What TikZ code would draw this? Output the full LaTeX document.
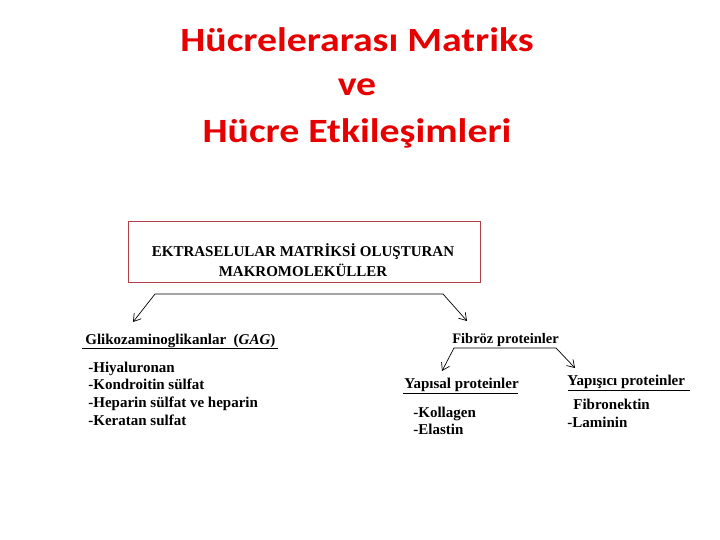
\documentclass[tikz,border=0pt]{standalone}
\usepackage{fontspec}
\setmainfont{Liberation Serif}
\newfontfamily\titlefont[FakeStretch=1.17]{Carlito}
\usepackage{tikz}
\usetikzlibrary{arrows.meta, calc}
\usepackage{xcolor}
\definecolor{titlered}{RGB}{230,0,0}
\definecolor{boxred}{RGB}{176,64,72}

\begin{document}
\begin{tikzpicture}[x=1pt, y=-1pt, line width=0.7pt,
	every node/.style={inner sep=0pt, font=\bfseries\fontsize{15}{18}\selectfont},
	titletext/.style={text=titlered, font=\titlefont\bfseries\fontsize{34}{34}\selectfont},
	item/.style={anchor=base west},
	tip/.style={{Straight Barb[length=7pt, width=9pt]}-{Straight Barb[length=7pt, width=9pt]}}]
	\useasboundingbox (0,0) rectangle (720,540);
	% title
	\node [titletext] (T1) at (357,40) {Hücrelerarası Matriks};
	\node [titletext] (T2) at (357,87) {ve};
	\node [titletext] (T3) at (357,133) {Hücre Etkileşimleri};
	% main box
	\node [draw=boxred, line width=1pt, minimum width=352, minimum height=60] (box) at (304,252) {};
	\node [align=center, font=\bfseries\fontsize{15}{20}\selectfont] (EKM) at (303,260)
		{EKTRASELULAR MATRİKSİ OLUŞTURAN\\ MAKROMOLEKÜLLER};
	\coordinate (L) at (155,294);
	\coordinate (R) at (443,294);
	\coordinate (Ltip) at (133,322);
	\coordinate (Rtip) at (467,321);
	\draw [tip] (Ltip) -- (L) -- (R) -- (Rtip);
	% GAG
	\node [item] (GAG) at (85,344) {Glikozaminoglikanlar~~(\textit{GAG})};
	\draw (82,348) -- (278,348);
	\node [item] (G1) at (88,372) {-Hiyaluronan};
	\node [item] (G2) at (88,389.7) {-Kondroitin sülfat};
	\node [item] (G3) at (88,407.4) {-Heparin sülfat ve heparin};
	\node [item] (G4) at (88,425) {-Keratan sulfat};
	% fibroz proteinler
	\node [item, font=\bfseries\fontsize{14.5}{18}\selectfont] (FP) at (452,343) {Fibröz proteinler};
	\coordinate (FL) at (454,348);
	\coordinate (FR) at (556,348);
	\coordinate (FLtip) at (442,371);
	\coordinate (FRtip) at (575,368);
	\draw [tip] (FLtip) -- (FL) -- (FR) -- (FRtip);
	\node [item] (YP) at (404,388) {Yapısal proteinler};
	\draw (403,393) -- (518,393);
	\node [item] (YK1) at (413,417) {-Kollagen};
	\node [item] (YK2) at (413,434.5) {-Elastin};
	\node [item] (YC) at (567,385) {Yapışıcı proteinler};
	\draw (568,390) -- (690,390);
	\node [item] (YC1) at (573,409) {Fibronektin};
	\node [item] (YC2) at (567,427) {-Laminin};
\end{tikzpicture}
\end{document}
